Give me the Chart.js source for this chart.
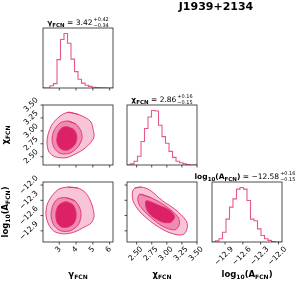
<!DOCTYPE html>
<html>
<head>
<meta charset="utf-8">
<script src="https://cdn.jsdelivr.net/npm/chart.js@4.4.0/dist/chart.umd.min.js"></script>
<style>
    html, body { margin: 0; padding: 0; background: #fff; }
    #wrap { position: relative; width: 299px; height: 281px; }
    #wrap canvas { position: absolute; left: 0; top: 0; }
</style>
</head>
<body>
<div id="wrap"></div>
<script>
const W = 299, H = 281;

// axis ranges and ticks
const gammaRange = [2.03, 6.2];
const chiRange = [2.34, 3.50];
const ampRange = [-13.12, -11.94];
const gammaTicks = [3, 4, 5, 6];
const chiTicks = [2.50, 2.75, 3.00, 3.25, 3.50];
const ampTicks = [-12.9, -12.6, -12.3, -12.0];
const gammaTickLabels = ['3', '4', '5', '6'];
const chiTickLabels = ['2.50', '2.75', '3.00', '3.25', '3.50'];
const ampTickLabels = ['\u221212.9', '\u221212.6', '\u221212.3', '\u221212.0'];

// 1D histograms (20 bins across each range)
const gammaCounts = [0, 0, 40, 80, 520, 890, 1000, 820, 530, 300, 160, 90, 50, 30, 15, 8, 4, 2, 1, 0];
const chiCounts = [0, 20, 70, 160, 430, 670, 880, 1000, 990, 730, 520, 400, 250, 140, 70, 40, 20, 10, 0, 0];
const ampCounts = [0, 20, 60, 180, 420, 640, 790, 970, 1000, 970, 760, 420, 390, 240, 120, 60, 30, 10, 0, 0];

// 2D contours: [x, y] in data units
const gcOuter = [[3.52, 3.36], [4.11, 3.32], [4.59, 3.25], [4.89, 3.17], [5.01, 3.04], [5.07, 2.89], [4.89, 2.78], [4.47, 2.65], [4.00, 2.56], [3.40, 2.48], [2.74, 2.50], [2.39, 2.59], [2.27, 2.76], [2.33, 2.93], [2.57, 3.12], [2.98, 3.27]];
const gcMid = [[3.52, 3.19], [3.99, 3.13], [4.29, 3.00], [4.35, 2.85], [4.11, 2.69], [3.64, 2.57], [3.10, 2.56], [2.74, 2.65], [2.57, 2.82], [2.68, 3.00], [3.04, 3.15]];
const gcInner = [[3.46, 3.08], [3.88, 3.02], [4.05, 2.89], [3.94, 2.74], [3.52, 2.63], [3.10, 2.65], [2.86, 2.78], [2.92, 2.95], [3.16, 3.06]];

const gaOuter = [[3.52, -12.04], [4.11, -12.06], [4.53, -12.14], [4.83, -12.29], [5.01, -12.46], [5.07, -12.62], [4.89, -12.75], [4.47, -12.83], [3.93, -12.92], [3.34, -12.96], [2.74, -12.92], [2.39, -12.79], [2.21, -12.60], [2.27, -12.39], [2.57, -12.21], [2.98, -12.08]];
const gaMid = [[3.40, -12.25], [3.93, -12.31], [4.23, -12.46], [4.29, -12.62], [4.11, -12.79], [3.64, -12.90], [3.10, -12.90], [2.68, -12.79], [2.51, -12.60], [2.63, -12.39], [2.92, -12.27]];
const gaInner = [[3.40, -12.33], [3.82, -12.39], [4.00, -12.54], [3.94, -12.71], [3.64, -12.81], [3.16, -12.83], [2.86, -12.73], [2.80, -12.54], [2.98, -12.39]];

const caOuter = [[2.47, -12.06], [2.58, -12.04], [2.72, -12.10], [2.93, -12.31], [3.15, -12.49], [3.32, -12.70], [3.34, -12.83], [3.29, -12.96], [3.18, -12.98], [2.99, -12.91], [2.77, -12.75], [2.55, -12.52], [2.44, -12.31], [2.43, -12.14]];
const caMid = [[2.55, -12.18], [2.74, -12.25], [2.99, -12.42], [3.18, -12.62], [3.21, -12.77], [3.13, -12.88], [2.93, -12.81], [2.72, -12.62], [2.56, -12.42], [2.52, -12.28]];
const caInner = [[2.66, -12.31], [2.85, -12.39], [3.04, -12.49], [3.13, -12.62], [3.07, -12.73], [2.93, -12.73], [2.74, -12.60], [2.66, -12.46]];

const LINE = '#e0306e';
const HIST = '#e6588c';
const FILLS = ['#dd2166', '#ee8db3', '#f7c4d8'];
const FONT = '"DejaVu Sans"';

const cols = [[43, 113], [127, 197], [212, 282]];
const rows = [[28, 88], [105, 165], [182, 242]];

const wrap = document.getElementById('wrap');

function histData(counts, range) {
    const n = counts.length;
    const step = (range[1] - range[0]) / n;
    const pts = [{ x: range[0], y: 0 }];
    counts.forEach((c, i) => pts.push({ x: range[0] + i * step, y: c }));
    pts.push({ x: range[1], y: counts[n - 1] });
    pts.push({ x: range[1], y: 0 });
    return pts;
}

function contourSet(inner, mid, outer) {
    // first dataset is drawn on top
    return [inner, mid, outer].map((poly, i) => ({
        type: 'line',
        data: poly.concat([poly[0], poly[1]]).map(p => ({ x: p[0], y: p[1] })),
        borderColor: LINE,
        borderWidth: 0.9,
        backgroundColor: FILLS[i],
        fill: 'shape',
        tension: 0.3,
        pointRadius: 0
    }));
}

// text helpers
function runsWidth(ctx, runs) {
    let total = 0;
    runs.forEach(r => {
        ctx.font = r.f;
        if (r.sup !== undefined) {
            r.w = Math.max(ctx.measureText(r.sup).width, ctx.measureText(r.sub).width) + 1;
        } else {
            r.w = ctx.measureText(r.t).width;
        }
        total += r.w;
    });
    return total;
}

function drawRuns(ctx, runs, x, y) {
    const total = runsWidth(ctx, runs);
    let cx = x - total / 2;
    ctx.textAlign = 'left';
    ctx.textBaseline = 'alphabetic';
    runs.forEach(r => {
        ctx.font = r.f;
        if (r.sup !== undefined) {
            ctx.fillText(r.sup, cx + 1, y - 4);
            ctx.fillText(r.sub, cx + 1, y + 1.5);
        } else {
            ctx.fillText(r.t, cx, y + (r.dy || 0));
        }
        cx += r.w;
    });
}

const B = 'bold 8.5px ' + FONT, BS = 'bold 6px ' + FONT;
const TB = 'bold 7.5px ' + FONT, TBS = 'bold 5.5px ' + FONT;
const N = '7.5px ' + FONT, NS = '5px ' + FONT;
const gammaRuns = (b, s) => [{ t: '\u03b3', f: b }, { t: 'FCN', f: s, dy: 1.5 }];
const chiRuns = (b, s) => [{ t: '\u03c7', f: b }, { t: 'FCN', f: s, dy: 1.5 }];
const ampRuns = (b, s) => [{ t: 'log', f: b }, { t: '10', f: s, dy: 1.5 }, { t: '(A', f: b }, { t: 'FCN', f: s, dy: 1.5 }, { t: ')', f: b }];

function rotLabel(ctx, text, cx, cy) {
    ctx.save();
    ctx.translate(cx, cy);
    ctx.rotate(-Math.PI / 4);
    ctx.textAlign = 'center';
    ctx.textBaseline = 'middle';
    ctx.fillText(text, 0, 0);
    ctx.restore();
}

function framePlugin(cfg) {
    return {
        id: 'frame',
        afterDraw(chart) {
            const ctx = chart.ctx;
            const a = chart.chartArea;
            const xs = chart.scales.x, ys = chart.scales.y;
            ctx.save();
            ctx.strokeStyle = '#222';
            ctx.fillStyle = '#000';
            ctx.lineWidth = 0.8;
            ctx.strokeRect(a.left, a.top, a.right - a.left, a.bottom - a.top);
            const tl = 2.5, fs = 7.5;
            ctx.font = fs + 'px ' + FONT;
            if (cfg.xTicks) {
                cfg.xTicks.forEach((v, i) => {
                    const px = xs.getPixelForValue(v);
                    ctx.beginPath();
                    ctx.moveTo(px, a.bottom);
                    ctx.lineTo(px, a.bottom + tl);
                    ctx.stroke();
                    if (cfg.xLabels) {
                        const w = ctx.measureText(cfg.xLabels[i]).width;
                        const side = (w + fs * 0.75) / Math.SQRT2;
                        rotLabel(ctx, cfg.xLabels[i], px - 1, a.bottom + tl + 1.5 + side / 2);
                    }
                });
            }
            if (cfg.yTicks) {
                cfg.yTicks.forEach((v, i) => {
                    const py = ys.getPixelForValue(v);
                    ctx.beginPath();
                    ctx.moveTo(a.left, py);
                    ctx.lineTo(a.left - tl, py);
                    ctx.stroke();
                    if (cfg.yLabels) {
                        const w = ctx.measureText(cfg.yLabels[i]).width;
                        const side = (w + fs * 0.75) / Math.SQRT2;
                        rotLabel(ctx, cfg.yLabels[i], a.left - tl - 1.5 - side / 2, py);
                    }
                });
            }
            if (cfg.title) drawRuns(ctx, cfg.title, (a.left + a.right) / 2 + (cfg.titleShift || 0), a.top - 3);
            if (cfg.xTitle) drawRuns(ctx, cfg.xTitle, (a.left + a.right) / 2, 277);
            if (cfg.yTitle) {
                ctx.save();
                ctx.translate(8, (a.top + a.bottom) / 2);
                ctx.rotate(-Math.PI / 2);
                drawRuns(ctx, cfg.yTitle, 0, 0);
                ctx.restore();
            }
            if (cfg.header) {
                ctx.font = 'bold 11px ' + FONT;
                ctx.textAlign = 'center';
                ctx.textBaseline = 'alphabetic';
                ctx.fillText(cfg.header, 216, 10);
            }
            ctx.restore();
        }
    };
}

function makePanel(cfg) {
    const canvas = document.createElement('canvas');
    canvas.width = W;
    canvas.height = H;
    wrap.appendChild(canvas);
    const box = { l: cols[cfg.col][0], r: cols[cfg.col][1], t: rows[cfg.row][0], b: rows[cfg.row][1] };
    new Chart(canvas, {
        type: 'scatter',
        data: { datasets: cfg.datasets },
        options: {
            responsive: false,
            animation: false,
            devicePixelRatio: 1,
            layout: { padding: { left: box.l, top: box.t, right: W - box.r, bottom: H - box.b } },
            scales: {
                x: { type: 'linear', min: cfg.xRange[0], max: cfg.xRange[1], display: false },
                y: { type: 'linear', min: cfg.yRange[0], max: cfg.yRange[1], display: false }
            },
            plugins: { legend: { display: false }, tooltip: { enabled: false } },
            elements: { point: { radius: 0 } }
        },
        plugins: [framePlugin(cfg)]
    });
}

function histPanel(counts, range) {
    return {
        datasets: [{
            type: 'line',
            data: histData(counts, range),
            stepped: 'before',
            borderColor: HIST,
            borderWidth: 1.1,
            fill: false,
            pointRadius: 0
        }],
        xRange: range,
        yRange: [0, Math.max(...counts) * 1.1]
    };
}

// diagonal
makePanel(Object.assign(histPanel(gammaCounts, gammaRange), {
    row: 0, col: 0, xTicks: gammaTicks,
    title: gammaRuns(TB, TBS).concat([{ t: ' = 3.42', f: N }, { sup: '+0.42', sub: '\u22120.34', f: NS }]),
    header: 'J1939+2134'
}));
makePanel(Object.assign(histPanel(chiCounts, chiRange), {
    row: 1, col: 1, xTicks: chiTicks,
    title: chiRuns(TB, TBS).concat([{ t: ' = 2.86', f: N }, { sup: '+0.16', sub: '\u22120.15', f: NS }])
}));
makePanel(Object.assign(histPanel(ampCounts, ampRange), {
    row: 2, col: 2, xTicks: ampTicks, xLabels: ampTickLabels, xTitle: ampRuns(B, BS), titleShift: -2,
    title: ampRuns(TB, TBS).concat([{ t: ' = \u221212.58', f: N }, { sup: '+0.16', sub: '\u22120.15', f: NS }])
}));

// off-diagonal
makePanel({
    row: 1, col: 0, datasets: contourSet(gcInner, gcMid, gcOuter),
    xRange: gammaRange, yRange: chiRange,
    xTicks: gammaTicks, yTicks: chiTicks, yLabels: chiTickLabels, yTitle: chiRuns(B, BS)
});
makePanel({
    row: 2, col: 0, datasets: contourSet(gaInner, gaMid, gaOuter),
    xRange: gammaRange, yRange: ampRange,
    xTicks: gammaTicks, xLabels: gammaTickLabels, yTicks: ampTicks, yLabels: ampTickLabels,
    xTitle: gammaRuns(B, BS), yTitle: ampRuns(B, BS)
});
makePanel({
    row: 2, col: 1, datasets: contourSet(caInner, caMid, caOuter),
    xRange: chiRange, yRange: ampRange,
    xTicks: chiTicks, xLabels: chiTickLabels, yTicks: ampTicks, xTitle: chiRuns(B, BS)
});
</script>
</body>
</html>
